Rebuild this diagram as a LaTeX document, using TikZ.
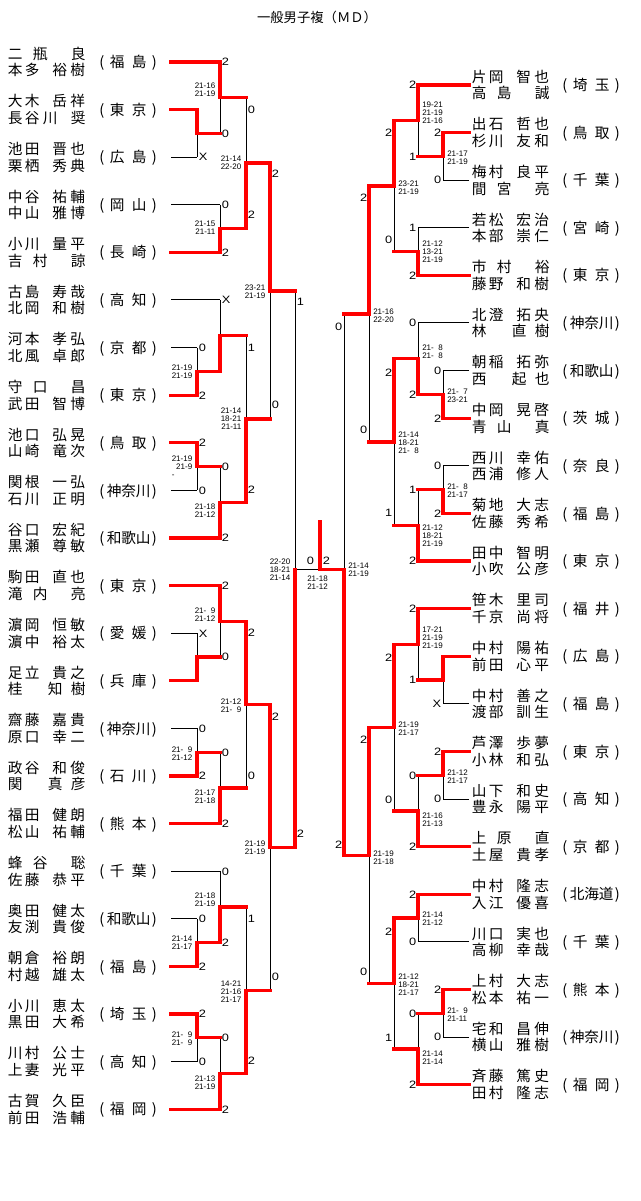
\documentclass[tikz,border=0pt]{standalone}
\usepackage{fontspec}
\setmainfont{Liberation Sans}
\newfontfamily\jp{Noto Sans CJK JP}
\newfontfamily\dg[FakeStretch=1.2]{Liberation Sans}
\usetikzlibrary{calc}
\newdimen\pxu \pxu=0.75pt
\newcommand\xch[2]{\makebox[0pt][l]{\hspace*{#1\pxu}#2}}
\newcommand\NA[4]{\xch{0}{#1}\xch{17}{#2}\xch{44.5}{#3}\xch{62.5}{#4}\hspace*{79\pxu}}
\newcommand\NB[3]{\xch{0}{#1}\xch{25}{#2}\xch{63}{#3}\hspace*{79\pxu}}
\newcommand\NC[3]{\xch{0}{#1}\xch{40}{#2}\xch{63}{#3}\hspace*{79\pxu}}
\newcommand\ND[4]{\xch{0}{#1}\xch{17}{#2}\xch{35}{#3}\xch{63}{#4}\hspace*{79\pxu}}
\newcommand\PA[2]{\xch{0}{(}\xch{10.5}{#1}\xch{32.5}{#2}\xch{52.5}{)}\hspace*{58\pxu}}
\newcommand\PB[3]{\xch{0}{(}\xch{7.5}{#1}\xch{22}{#2}\xch{36.5}{#3}\xch{52.5}{)}\hspace*{58\pxu}}
\newcommand\fsp{\hphantom{0}}
\newcommand\entL[5]{%
 \node[nm] (#1a) at (7.5,#2-2.65) {#3};
 \node[nm] (#1b) at (7.5,#2+13.85) {#4};
 \node[nm] (#1p) at (99,#2+5.6) {#5};
 \coordinate (#1) at (171,#2);}
\newcommand\entR[5]{%
 \node[nm] (#1a) at (471.5,#2-2.65) {#3};
 \node[nm] (#1b) at (471.5,#2+13.85) {#4};
 \node[nm] (#1p) at (562,#2+5.6) {#5};
 \coordinate (#1) at (469,#2);}
\newcommand\fe[2]{\coordinate (#1e) at (#1 -| #2);}
\newcommand\mt[4]{\coordinate (#1) at ($(#2)!.5!(#3)$); \coordinate (#1e) at (#1 -| #4);}
\newcommand\sL[4]{\node[scl] (#1) at (#2+1.5,#3+3.8) {#4};}
\newcommand\sR[4]{\node[scr] (#1) at (#2-1.5,#3+3.8) {#4};}
\newcommand\gL[4]{\node[gml] (#1) at (#2-4.5,#3) {#4};}
\newcommand\gR[4]{\node[gmr] (#1) at (#2+4,#3) {#4};}
\begin{document}
\begin{tikzpicture}[x=0.75pt,y=-0.75pt,
 ln/.style={line width=0.75pt,black},
 win/.style={line width=2.5pt,red,line cap=rect,line join=miter},
 nm/.style={anchor=base west,inner sep=0pt,font=\jp\fontsize{11}{13}\selectfont},
 ttl/.style={anchor=base,inner sep=0pt,font=\jp\fontsize{10}{12}\selectfont},
 scl/.style={anchor=base west,inner sep=0pt,font=\dg\fontsize{8}{9}\selectfont},
 scr/.style={anchor=base east,inner sep=0pt,font=\dg\fontsize{8}{9}\selectfont},
 gml/.style={anchor=east,inner sep=0pt,align=right,font=\fontsize{6}{6}\selectfont},
 gmr/.style={anchor=west,inner sep=0pt,align=left,font=\fontsize{6}{6}\selectfont},
 gmc/.style={anchor=center,inner sep=0pt,align=center,font=\fontsize{6}{6}\selectfont}]
\useasboundingbox (0,0) rectangle (640,1201);
\node[ttl] (title) at (317,23) {一般男子複（ＭＤ）};
% columns
\coordinate (c1) at (197,0); \coordinate (c2) at (220,0); \coordinate (c3) at (246,0);
\coordinate (c4) at (270,0); \coordinate (c5) at (295,0); \coordinate (cm) at (320,0);
\coordinate (r1) at (443,0); \coordinate (r2) at (418,0); \coordinate (r3) at (394,0);
\coordinate (r4) at (369,0); \coordinate (r5) at (344,0);
% left entries
\entL{L1}{62}{\NB{二}{瓶}{良}}{\NA{本}{多}{裕}{樹}}{\PA{福}{島}}
\entL{L2}{109.6}{\NA{大}{木}{岳}{祥}}{\ND{長}{谷}{川}{奨}}{\PA{東}{京}}
\entL{L3}{157.2}{\NA{池}{田}{晋}{也}}{\NA{栗}{栖}{秀}{典}}{\PA{広}{島}}
\entL{L4}{204.8}{\NA{中}{谷}{祐}{輔}}{\NA{中}{山}{雅}{博}}{\PA{岡}{山}}
\entL{L5}{252.4}{\NA{小}{川}{量}{平}}{\NB{吉}{村}{諒}}{\PA{長}{崎}}
\entL{L6}{300}{\NA{古}{島}{寿}{哉}}{\NA{北}{岡}{和}{樹}}{\PA{高}{知}}
\entL{L7}{347.6}{\NA{河}{本}{孝}{弘}}{\NA{北}{風}{卓}{郎}}{\PA{京}{都}}
\entL{L8}{395.2}{\NB{守}{口}{昌}}{\NA{武}{田}{智}{博}}{\PA{東}{京}}
\entL{L9}{442.8}{\NA{池}{口}{弘}{晃}}{\NA{山}{崎}{竜}{次}}{\PA{鳥}{取}}
\entL{L10}{490.4}{\NA{関}{根}{一}{弘}}{\NA{石}{川}{正}{明}}{\PB{神}{奈}{川}}
\entL{L11}{538}{\NA{谷}{口}{宏}{紀}}{\NA{黒}{瀬}{尊}{敏}}{\PB{和}{歌}{山}}
\entL{L12}{585.6}{\NA{駒}{田}{直}{也}}{\NB{滝}{内}{亮}}{\PA{東}{京}}
\entL{L13}{633.2}{\NA{濵}{岡}{恒}{敏}}{\NA{濵}{中}{裕}{太}}{\PA{愛}{媛}}
\entL{L14}{680.8}{\NA{足}{立}{貴}{之}}{\NC{桂}{知}{樹}}{\PA{兵}{庫}}
\entL{L15}{728.4}{\NA{齋}{藤}{嘉}{貴}}{\NA{原}{口}{幸}{二}}{\PB{神}{奈}{川}}
\entL{L16}{776}{\NA{政}{谷}{和}{俊}}{\NC{関}{真}{彦}}{\PA{石}{川}}
\entL{L17}{823.6}{\NA{福}{田}{健}{朗}}{\NA{松}{山}{祐}{輔}}{\PA{熊}{本}}
\entL{L18}{871.2}{\NB{蜂}{谷}{聡}}{\NA{佐}{藤}{恭}{平}}{\PA{千}{葉}}
\entL{L19}{918.8}{\NA{奥}{田}{健}{太}}{\NA{友}{渕}{貴}{俊}}{\PB{和}{歌}{山}}
\entL{L20}{966.4}{\NA{朝}{倉}{裕}{朗}}{\NA{村}{越}{雄}{太}}{\PA{福}{島}}
\entL{L21}{1014}{\NA{小}{川}{恵}{太}}{\NA{黒}{田}{大}{希}}{\PA{埼}{玉}}
\entL{L22}{1061.6}{\NA{川}{村}{公}{士}}{\NA{上}{妻}{光}{平}}{\PA{高}{知}}
\entL{L23}{1109.2}{\NA{古}{賀}{久}{臣}}{\NA{前}{田}{浩}{輔}}{\PA{福}{岡}}
% right entries
\entR{R1}{85}{\NA{片}{岡}{智}{也}}{\NB{高}{島}{誠}}{\PA{埼}{玉}}
\entR{R2}{132.6}{\NA{出}{石}{哲}{也}}{\NA{杉}{川}{友}{和}}{\PA{鳥}{取}}
\entR{R3}{180.2}{\NA{梅}{村}{良}{平}}{\NB{間}{宮}{亮}}{\PA{千}{葉}}
\entR{R4}{227.8}{\NA{若}{松}{宏}{治}}{\NA{本}{部}{崇}{仁}}{\PA{宮}{崎}}
\entR{R5}{275.4}{\NB{市}{村}{裕}}{\NA{藤}{野}{和}{樹}}{\PA{東}{京}}
\entR{R6}{323}{\NA{北}{澄}{拓}{央}}{\NC{林}{直}{樹}}{\PB{神}{奈}{川}}
\entR{R7}{370.6}{\NA{朝}{稲}{拓}{弥}}{\NC{西}{起}{也}}{\PB{和}{歌}{山}}
\entR{R8}{418.2}{\NA{中}{岡}{晃}{啓}}{\NB{青}{山}{真}}{\PA{茨}{城}}
\entR{R9}{465.8}{\NA{西}{川}{幸}{佑}}{\NA{西}{浦}{修}{人}}{\PA{奈}{良}}
\entR{R10}{513.4}{\NA{菊}{地}{大}{志}}{\NA{佐}{藤}{秀}{希}}{\PA{福}{島}}
\entR{R11}{561}{\NA{田}{中}{智}{明}}{\NA{小}{吹}{公}{彦}}{\PA{東}{京}}
\entR{R12}{608.6}{\NA{笹}{木}{里}{司}}{\NA{千}{京}{尚}{将}}{\PA{福}{井}}
\entR{R13}{656.2}{\NA{中}{村}{陽}{祐}}{\NA{前}{田}{心}{平}}{\PA{広}{島}}
\entR{R14}{703.8}{\NA{中}{村}{善}{之}}{\NA{渡}{部}{訓}{生}}{\PA{福}{島}}
\entR{R15}{751.4}{\NA{芦}{澤}{歩}{夢}}{\NA{小}{林}{和}{弘}}{\PA{東}{京}}
\entR{R16}{799}{\NA{山}{下}{和}{史}}{\NA{豊}{永}{陽}{平}}{\PA{高}{知}}
\entR{R17}{846.6}{\NB{上}{原}{直}}{\NA{土}{屋}{貴}{孝}}{\PA{京}{都}}
\entR{R18}{894.2}{\NA{中}{村}{隆}{志}}{\NA{入}{江}{優}{喜}}{\PB{北}{海}{道}}
\entR{R19}{941.8}{\NA{川}{口}{実}{也}}{\NA{高}{柳}{幸}{哉}}{\PA{千}{葉}}
\entR{R20}{989.4}{\NA{上}{村}{大}{志}}{\NA{松}{本}{祐}{一}}{\PA{熊}{本}}
\entR{R21}{1037}{\NA{宅}{和}{昌}{伸}}{\NA{横}{山}{雅}{樹}}{\PB{神}{奈}{川}}
\entR{R22}{1084.6}{\NA{斉}{藤}{篤}{史}}{\NA{田}{村}{隆}{志}}{\PA{福}{岡}}
% entry ends
\fe{L1}{c2}\fe{L2}{c1}\fe{L3}{c1}\fe{L4}{c2}\fe{L5}{c2}\fe{L6}{c2}\fe{L7}{c1}\fe{L8}{c1}
\fe{L9}{c1}\fe{L10}{c1}\fe{L11}{c2}\fe{L12}{c2}\fe{L13}{c1}\fe{L14}{c1}\fe{L15}{c1}\fe{L16}{c1}
\fe{L17}{c2}\fe{L18}{c2}\fe{L19}{c1}\fe{L20}{c1}\fe{L21}{c1}\fe{L22}{c1}\fe{L23}{c2}
\fe{R1}{r2}\fe{R2}{r1}\fe{R3}{r1}\fe{R4}{r2}\fe{R5}{r2}\fe{R6}{r2}\fe{R7}{r1}\fe{R8}{r1}
\fe{R9}{r1}\fe{R10}{r1}\fe{R11}{r2}\fe{R12}{r2}\fe{R13}{r1}\fe{R14}{r1}\fe{R15}{r1}\fe{R16}{r1}
\fe{R17}{r2}\fe{R18}{r2}\fe{R19}{r2}\fe{R20}{r1}\fe{R21}{r1}\fe{R22}{r2}
% left matches
\mt{A1}{L2e}{L3e}{c2}\mt{A2}{L1e}{A1e}{c3}\mt{A3}{L4e}{L5e}{c3}\mt{A4}{A2e}{A3e}{c4}
\mt{A5}{L7e}{L8e}{c2}\mt{A6}{L6e}{A5e}{c3}\mt{A7}{L9e}{L10e}{c2}\mt{A9}{A7e}{L11e}{c3}
\mt{A8}{A6e}{A9e}{c4}\mt{A10}{A4e}{A8e}{c5}
\mt{B1}{L13e}{L14e}{c2}\mt{B2}{L12e}{B1e}{c3}\mt{B3}{L15e}{L16e}{c2}\mt{B4}{B3e}{L17e}{c3}
\mt{B5}{B2e}{B4e}{c4}\mt{B7}{L19e}{L20e}{c2}\mt{B6}{L18e}{B7e}{c3}\mt{B8}{L21e}{L22e}{c2}
\mt{B9}{B8e}{L23e}{c3}\mt{B10}{B6e}{B9e}{c4}\mt{B11}{B5e}{B10e}{c5}
\mt{LF}{A10e}{B11e}{cm}
% right matches
\mt{RA1}{R2e}{R3e}{r2}\mt{RA2}{R1e}{RA1e}{r3}\mt{RA3}{R4e}{R5e}{r3}\mt{RA4}{RA2e}{RA3e}{r4}
\mt{RA5}{R7e}{R8e}{r2}\mt{RA6}{R6e}{RA5e}{r3}\mt{RA7}{R9e}{R10e}{r2}\mt{RA8}{RA7e}{R11e}{r3}
\mt{RA9}{RA6e}{RA8e}{r4}\mt{RA10}{RA4e}{RA9e}{r5}
\mt{RB1}{R13e}{R14e}{r2}\mt{RB2}{R12e}{RB1e}{r3}\mt{RB3}{R15e}{R16e}{r2}\mt{RB4}{RB3e}{R17e}{r3}
\mt{RB5}{RB2e}{RB4e}{r4}\mt{RB6}{R18e}{R19e}{r3}\mt{RB7}{R20e}{R21e}{r2}\mt{RB8}{RB7e}{R22e}{r3}
\mt{RB9}{RB6e}{RB8e}{r4}\mt{RB10}{RB5e}{RB9e}{r5}
\coordinate (RF) at (LF -| r5);
\coordinate (fin) at (LFe);
\coordinate (champ) at (320,522);
% black lines
\foreach \e in {L3,L4,L6,L7,L10,L13,L15,L18,L19,L22,R3,R4,R6,R7,R9,R14,R16,R19,R21}
  \draw[ln] (\e) -- (\e e);
\draw[ln] (L2e)--(L3e) (L1e)--(A1e) (L4e)--(L5e) (A2e)--(A3e) (L7e)--(L8e) (L6e)--(A5e)
 (L9e)--(L10e) (A7e)--(L11e) (A6e)--(A9e) (A4e)--(A8e) (L13e)--(L14e) (L12e)--(B1e)
 (L15e)--(L16e) (B3e)--(L17e) (B2e)--(B4e) (L19e)--(L20e) (L18e)--(B7e) (L21e)--(L22e)
 (B8e)--(L23e) (B6e)--(B9e) (B5e)--(B10e) (A10e)--(B11e) (LF)--(fin);
\draw[ln] (R2e)--(R3e) (R1e)--(RA1e) (R4e)--(R5e) (RA2e)--(RA3e) (R7e)--(R8e) (R6e)--(RA5e)
 (R9e)--(R10e) (RA7e)--(R11e) (RA6e)--(RA8e) (RA4e)--(RA9e) (R13e)--(R14e) (R12e)--(RB1e)
 (R15e)--(R16e) (RB3e)--(R17e) (RB2e)--(RB4e) (R18e)--(R19e) (R20e)--(R21e) (RB7e)--(R22e)
 (RB6e)--(RB8e) (RB5e)--(RB9e) (RA10e)--(RB10e);
% red winner paths, left
\draw[win] (L2)--(L2e)--(A1)--(A1e);
\draw[win] (L1)--(L1e)--(A2)--(A2e);
\draw[win] (L5)--(L5e)--(A3)--(A3e);
\draw[win] (A3e)--(A4)--(A4e);
\draw[win] (L8)--(L8e)--(A5)--(A5e);
\draw[win] (A5e)--(A6)--(A6e);
\draw[win] (L9)--(L9e)--(A7)--(A7e);
\draw[win] (L11)--(L11e)--(A9)--(A9e);
\draw[win] (A9e)--(A8)--(A8e);
\draw[win] (A4e)--(A10)--(A10e);
\draw[win] (L14)--(L14e)--(B1)--(B1e);
\draw[win] (L12)--(L12e)--(B2)--(B2e);
\draw[win] (L16)--(L16e)--(B3)--(B3e);
\draw[win] (L17)--(L17e)--(B4)--(B4e);
\draw[win] (B2e)--(B5)--(B5e);
\draw[win] (L20)--(L20e)--(B7)--(B7e);
\draw[win] (B7e)--(B6)--(B6e);
\draw[win] (L21)--(L21e)--(B8)--(B8e);
\draw[win] (L23)--(L23e)--(B9)--(B9e);
\draw[win] (B9e)--(B10)--(B10e);
\draw[win] (B5e)--(B11)--(B11e);
\draw[win] (B11e)--(LF);
% red winner paths, right
\draw[win] (R2)--(R2e)--(RA1)--(RA1e);
\draw[win] (R1)--(R1e)--(RA2)--(RA2e);
\draw[win] (R5)--(R5e)--(RA3)--(RA3e);
\draw[win] (RA2e)--(RA4)--(RA4e);
\draw[win] (R8)--(R8e)--(RA5)--(RA5e);
\draw[win] (RA5e)--(RA6)--(RA6e);
\draw[win] (R10)--(R10e)--(RA7)--(RA7e);
\draw[win] (R11)--(R11e)--(RA8)--(RA8e);
\draw[win] (RA6e)--(RA9)--(RA9e);
\draw[win] (RA4e)--(RA10)--(RA10e);
\draw[win] (R13)--(R13e)--(RB1)--(RB1e);
\draw[win] (R12)--(R12e)--(RB2)--(RB2e);
\draw[win] (R15)--(R15e)--(RB3)--(RB3e);
\draw[win] (R17)--(R17e)--(RB4)--(RB4e);
\draw[win] (RB2e)--(RB5)--(RB5e);
\draw[win] (R18)--(R18e)--(RB6)--(RB6e);
\draw[win] (R20)--(R20e)--(RB7)--(RB7e);
\draw[win] (R22)--(R22e)--(RB8)--(RB8e);
\draw[win] (RB6e)--(RB9)--(RB9e);
\draw[win] (RB5e)--(RB10)--(RB10e);
\draw[win] (RB10e)--(RF)--(fin)--(champ);
% match scores, left
\sL{s1}{197}{157.2}{X}\sL{s2}{197}{347.6}{0}\sL{s3}{197}{395.2}{2}\sL{s4}{197}{442.8}{2}
\sL{s5}{197}{490.4}{0}\sL{s6}{197}{633.2}{X}\sL{s7}{197}{728.4}{0}\sL{s8}{197}{776}{2}
\sL{s9}{197}{918.8}{0}\sL{s10}{197}{966.4}{2}\sL{s11}{197}{1014}{2}\sL{s12}{197}{1061.6}{0}
\sL{s13}{220}{62}{2}\sL{s14}{220}{133.4}{0}\sL{s15}{220}{204.8}{0}\sL{s16}{220}{252.4}{2}
\sL{s17}{220}{300}{X}\sL{s18}{220}{466.6}{0}\sL{s19}{220}{538}{2}\sL{s20}{220}{585.6}{2}
\sL{s21}{220}{657}{0}\sL{s22}{220}{752.2}{0}\sL{s23}{220}{823.6}{2}\sL{s24}{220}{871.2}{0}
\sL{s25}{220}{942.6}{2}\sL{s26}{220}{1037.8}{0}\sL{s27}{220}{1109.2}{2}
\sL{s28}{246}{109.7}{0}\sL{s29}{246}{215}{2}\sL{s30}{246}{348}{1}\sL{s31}{246}{490}{2}
\sL{s32}{246}{633}{2}\sL{s33}{246}{776}{0}\sL{s34}{246}{919}{1}\sL{s35}{246}{1061}{2}
\sL{s36}{270}{174}{2}\sL{s37}{270}{405}{0}\sL{s38}{270}{717}{2}\sL{s39}{270}{977}{0}
\sL{s40}{295}{302}{1}\sL{s41}{295}{834}{2}
\sL{s42}{305}{561}{0}\sL{s43}{321}{561}{2}
% match scores, right
\sR{t1}{443}{132.6}{2}\sR{t2}{443}{180.2}{0}\sR{t3}{443}{370.6}{0}\sR{t4}{443}{418.2}{2}
\sR{t5}{443}{465.8}{0}\sR{t6}{443}{513.4}{2}\sR{t7}{443}{703.8}{X}\sR{t8}{443}{751.4}{2}
\sR{t9}{443}{799}{0}\sR{t10}{443}{989.4}{2}\sR{t11}{443}{1037}{0}
\sR{t12}{418}{85}{2}\sR{t13}{418}{156.4}{1}\sR{t14}{418}{227.8}{1}\sR{t15}{418}{275.4}{2}
\sR{t16}{418}{323}{0}\sR{t17}{418}{394.4}{2}\sR{t18}{418}{489.6}{1}\sR{t19}{418}{561}{2}
\sR{t20}{418}{608.6}{2}\sR{t21}{418}{680}{1}\sR{t22}{418}{775.2}{0}\sR{t23}{418}{846.6}{2}
\sR{t24}{418}{894.2}{2}\sR{t25}{418}{941.8}{0}\sR{t26}{418}{1013.2}{0}\sR{t27}{418}{1084.6}{2}
\sR{t28}{394}{133}{2}\sR{t29}{394}{240}{0}\sR{t30}{394}{373}{2}\sR{t31}{394}{513}{1}
\sR{t32}{394}{658}{2}\sR{t33}{394}{800}{0}\sR{t34}{394}{932}{2}\sR{t35}{394}{1038}{1}
\sR{t36}{369}{198}{2}\sR{t37}{369}{430}{0}\sR{t38}{369}{740}{2}\sR{t39}{369}{972}{0}
\sR{t40}{344}{327}{0}\sR{t41}{344}{845}{2}
% game scores, left
\gL{gA2}{220}{89.5}{21-16\\21-19}
\gL{gA3}{220}{228}{21-15\\21-11}
\gL{gA4}{246}{163}{21-14\\22-20}
\gL{gA5}{197}{372}{21-19\\21-19}
\gL{gA7}{197}{467}{21-19\\21-9\\\rlap{-}\phantom{21-19}}
\gL{gA9}{220}{511}{21-18\\21-12}
\gL{gA8}{246}{419}{21-14\\18-21\\21-11}
\gL{gA10}{270}{292}{23-21\\21-19}
\gL{gB2}{220}{614.5}{21-\fsp9\\21-12}
\gL{gB3}{197}{753.5}{21-\fsp9\\21-12}
\gL{gB4}{220}{797}{21-17\\21-18}
\gL{gB5}{246}{706}{21-12\\21-\fsp9}
\gL{gB7}{197}{943}{21-14\\21-17}
\gL{gB6}{220}{900}{21-18\\21-19}
\gL{gB8}{197}{1038.5}{21-\fsp9\\21-\fsp9}
\gL{gB9}{220}{1083}{21-13\\21-19}
\gL{gB10}{246}{992}{14-21\\21-16\\21-17}
\gL{gB11}{270}{848}{21-19\\21-19}
\gL{gLF}{295}{570}{22-20\\18-21\\21-14}
\node[gmc] (gF) at (317.5,582.5) {21-18\\21-12};
% game scores, right
\gR{gRA1}{443}{157.5}{21-17\\21-19}
\gR{gRA2}{418}{113}{19-21\\21-19\\21-16}
\gR{gRA3}{418}{252}{21-12\\13-21\\21-19}
\gR{gRA4}{394}{187.5}{23-21\\21-19}
\gR{gRA5}{443}{396}{21-\fsp7\\23-21}
\gR{gRA6}{418}{352}{21-\fsp8\\21-\fsp8}
\gR{gRA7}{443}{491}{21-\fsp8\\21-17}
\gR{gRA8}{418}{536}{21-12\\18-21\\21-19}
\gR{gRA9}{394}{443}{21-14\\18-21\\21-\fsp8}
\gR{gRA10}{369}{316}{21-16\\22-20}
\gR{gRF}{344}{570}{21-14\\21-19}
\gR{gRB2}{418}{638}{17-21\\21-19\\21-19}
\gR{gRB3}{443}{777}{21-12\\21-17}
\gR{gRB4}{418}{820}{21-16\\21-13}
\gR{gRB5}{394}{729}{21-19\\21-17}
\gR{gRB6}{418}{919}{21-14\\21-12}
\gR{gRB7}{443}{1015}{21-\fsp9\\21-11}
\gR{gRB8}{418}{1058}{21-14\\21-14}
\gR{gRB9}{394}{985}{21-12\\18-21\\21-17}
\gR{gRB10}{369}{857.5}{21-19\\21-18}
\end{tikzpicture}
\end{document}
